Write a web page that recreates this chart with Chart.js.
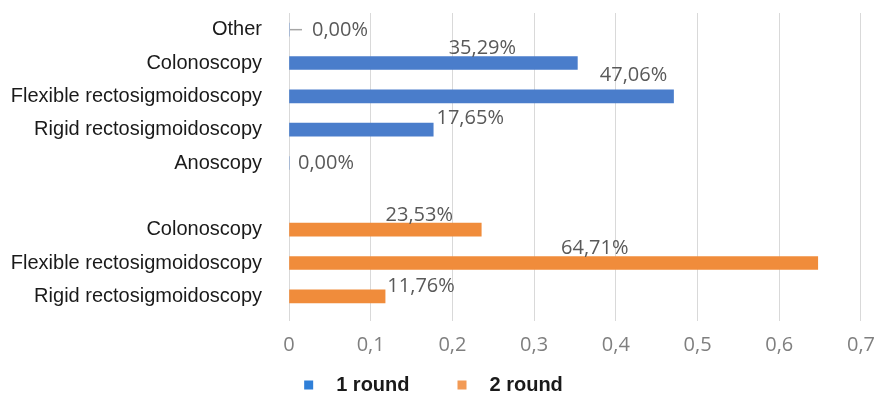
<!DOCTYPE html>
<html>
<head>
<meta charset="utf-8">
<script src="https://cdn.jsdelivr.net/npm/chart.js@4"></script>
<style>
  html, body { margin: 0; padding: 0; background: #fff; }
  #wrap { width: 887px; height: 396px; }
</style>
</head>
<body>
<div id="wrap"><canvas id="examChart"></canvas></div>
<script>
// rows top to bottom; the blank row separates the two rounds
const categories = ['Other', 'Colonoscopy', 'Flexible rectosigmoidoscopy', 'Rigid rectosigmoidoscopy', 'Anoscopy', '',
                    'Colonoscopy', 'Flexible rectosigmoidoscopy', 'Rigid rectosigmoidoscopy'];
const round1 = [0, 0.3529, 0.4706, 0.1765, 0, null, null, null, null];
const round2 = [null, null, null, null, null, null, 0.2353, 0.6471, 0.1176];
const xTicks = [0, 0.1, 0.2, 0.3, 0.4, 0.5, 0.6, 0.7];
const seriesNames = ['1 round', '2 round'];
const seriesColors = ['#4a7dcb', '#f08c3b'];
const legendColors = ['#2f7fd8', '#f29a55'];

// where each value label sits, relative to the end of its bar
const labelShift = [[51, 1], [-95, -15], [-40, -21], [37, -11], [37, 0], null, [-62, -14], [-223, -15], [36, -10]];

const comma = (v, d) => v.toFixed(d).replace('.', ',');

const valueLabels = {
    id: 'valueLabels',
    afterDatasetsDraw(chart) {
        const { ctx, scales } = chart;
        ctx.save();
        ctx.font = '20px "Open Sans"';
        ctx.fillStyle = '#595959';
        ctx.textAlign = 'center';
        ctx.textBaseline = 'middle';
        chart.data.datasets.forEach(ds => {
            ds.data.forEach((v, i) => {
                if (v === null) return;
                const x = scales.x.getPixelForValue(v) + labelShift[i][0];
                const y = scales.y.getPixelForValue(i) + labelShift[i][1];
                ctx.fillText(comma(v * 100, 2) + '%', x, y);
            });
        });
        // the "Other" row is marked with a short grey dash at its zero value
        const y0 = scales.y.getPixelForValue(0);
        const x0 = scales.x.getPixelForValue(round1[0]);
        ctx.strokeStyle = '#a6a6a6';
        ctx.lineWidth = 1.5;
        ctx.beginPath();
        ctx.moveTo(x0 + 1, y0);
        ctx.lineTo(x0 + 13, y0);
        ctx.stroke();
        ctx.restore();
    }
};

// legend drawn by hand: small squares, wide gaps, bold names
const roundLegend = {
    id: 'roundLegend',
    afterDraw(chart) {
        const { ctx } = chart;
        const box = 9, gap = 23, between = 48;
        ctx.save();
        ctx.font = 'bold 20px "Liberation Sans"';
        ctx.textBaseline = 'middle';
        const widths = seriesNames.map(n => ctx.measureText(n).width);
        const total = widths.reduce((a, w) => a + box + gap + w, 0) + between * (seriesNames.length - 1);
        let x = chart.width / 2 - total / 2 - 10;
        const y = chart.height - 11;
        seriesNames.forEach((name, i) => {
            ctx.fillStyle = legendColors[i];
            ctx.fillRect(x, y - box / 2, box, box);
            ctx.fillStyle = '#1a1a1a';
            ctx.fillText(name, x + box + gap, y);
            x += box + gap + widths[i] + between;
        });
        ctx.restore();
    }
};

new Chart(document.getElementById('examChart'), {
    type: 'bar',
    data: {
        labels: categories,
        datasets: [{
            label: seriesNames[0],
            data: round1,
            backgroundColor: seriesColors[0],
            borderWidth: 0,
            grouped: false,
            barThickness: 13
        }, {
            label: seriesNames[1],
            data: round2,
            backgroundColor: seriesColors[1],
            borderWidth: 0,
            grouped: false,
            barThickness: 13
        }]
    },
    options: {
        indexAxis: 'y',
        responsive: true,
        maintainAspectRatio: false,
        animation: false,
        layout: { padding: { left: 0, right: 23, top: 13, bottom: 31 } },
        scales: {
            x: {
                min: 0,
                max: 0.7,
                afterBuildTicks: scale => { scale.ticks = xTicks.map(v => ({ value: v })); },
                afterFit: scale => { scale.height = 52; },
                grid: { color: '#d9d9d9', tickColor: '#d9d9d9', tickLength: 8, lineWidth: 1 },
                border: { display: false },
                ticks: {
                    color: '#7f7f7f',
                    font: { family: 'Open Sans', size: 20 },
                    padding: 12,
                    callback: v => v === 0 ? '0' : comma(v, 1)
                }
            },
            y: {
                afterFit: scale => {
                    scale.width = 289;
                    // keep the rows filling the full plot height
                    scale.paddingTop = 0;
                    scale.paddingBottom = 0;
                },
                grid: { display: false, drawTicks: false },
                border: { display: false },
                ticks: {
                    color: '#1a1a1a',
                    font: { family: 'Liberation Sans', size: 20 },
                    padding: 27,
                    autoSkip: false
                }
            }
        },
        plugins: {
            legend: { display: false },
            tooltip: { enabled: false }
        }
    },
    plugins: [valueLabels, roundLegend]
});
</script>
</body>
</html>
